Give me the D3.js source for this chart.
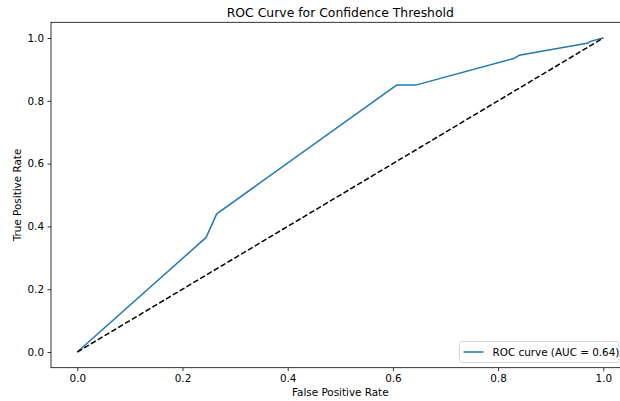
<!DOCTYPE html>
<html>
<head>
<meta charset="utf-8">
<script src="https://cdn.jsdelivr.net/npm/d3@7"></script>
<style>
  html, body { margin: 0; padding: 0; background: #fff; }
  svg { display: block; overflow: hidden; }
  text { font-family: "DejaVu Sans", sans-serif; fill: #000; }
</style>
</head>
<body>
<svg id="chart" width="620" height="401"></svg>
<script>
// ROC points
const fpr = [0, 0.245, 0.265, 0.607, 0.643, 0.83, 0.84, 0.969, 0.977, 1];
const tpr = [0, 0.365, 0.44, 0.85, 0.85, 0.935, 0.945, 0.983, 0.99, 1];
const chance = [0, 1];
const ticks = [0, 0.2, 0.4, 0.6, 0.8, 1.0];
const title = 'ROC Curve for Confidence Threshold';
const legendLabel = 'ROC curve (AUC = 0.64)';

const margin = { top: 22.3, left: 51, right: 629.6, bottom: 367.7 };
const fs = 10.4;
const svg = d3.select('#chart');

const x = d3.scaleLinear().domain([-0.05, 1.05]).range([margin.left, margin.right]);
const y = d3.scaleLinear().domain([-0.05, 1.05]).range([margin.bottom, margin.top]);

const fmt = d3.format('.1f');

// axes
svg.append('g')
  .attr('transform', `translate(0, ${margin.bottom})`)
  .call(d3.axisBottom(x).tickValues(ticks).tickFormat(fmt).tickSize(3.5).tickPadding(3.5).tickSizeOuter(0))
  .call(g => g.select('.domain').remove())
  .call(g => g.selectAll('text').attr('font-size', fs).attr('font-family', 'DejaVu Sans'))
  .call(g => g.selectAll('line').attr('stroke-width', 0.8));

svg.append('g')
  .attr('transform', `translate(${margin.left}, 0)`)
  .call(d3.axisLeft(y).tickValues(ticks).tickFormat(fmt).tickSize(3.5).tickPadding(3.5).tickSizeOuter(0))
  .call(g => g.select('.domain').remove())
  .call(g => g.selectAll('text').attr('font-size', fs).attr('font-family', 'DejaVu Sans'))
  .call(g => g.selectAll('line').attr('stroke-width', 0.8));

// lines
const line = d3.line().x(d => x(d[0])).y(d => y(d[1]));

svg.append('path')
  .datum(fpr.map((f, i) => [f, tpr[i]]))
  .attr('d', line)
  .attr('fill', 'none')
  .attr('stroke', '#1f77b4')
  .attr('stroke-width', 1.5)
  .attr('stroke-linejoin', 'round');

svg.append('path')
  .datum(chance.map(v => [v, v]))
  .attr('d', line)
  .attr('fill', 'none')
  .attr('stroke', '#000')
  .attr('stroke-width', 1.5)
  .attr('stroke-dasharray', '5.55,2.4');

// frame
svg.append('rect')
  .attr('x', margin.left)
  .attr('y', margin.top)
  .attr('width', margin.right - margin.left)
  .attr('height', margin.bottom - margin.top)
  .attr('fill', 'none')
  .attr('stroke', '#000')
  .attr('stroke-width', 0.8);

// titles
const midX = (margin.left + margin.right) / 2;
svg.append('text')
  .attr('x', midX).attr('y', 17)
  .attr('text-anchor', 'middle')
  .attr('font-size', 12.4)
  .text(title);

svg.append('text')
  .attr('x', midX).attr('y', 396)
  .attr('text-anchor', 'middle')
  .attr('font-size', fs)
  .text('False Positive Rate');

svg.append('text')
  .attr('transform', `translate(21, ${(margin.top + margin.bottom) / 2}) rotate(-90)`)
  .attr('text-anchor', 'middle')
  .attr('font-size', fs)
  .text('True Positive Rate');

// legend
const lg = svg.append('g').attr('transform', 'translate(459.5, 341.5)');
lg.append('rect')
  .attr('width', 159.5).attr('height', 21).attr('rx', 2)
  .attr('fill', '#fff').attr('fill-opacity', 0.8)
  .attr('stroke', '#ccc').attr('stroke-width', 0.8);
lg.append('line')
  .attr('x1', 4).attr('x2', 24).attr('y1', 10.5).attr('y2', 10.5)
  .attr('stroke', '#1f77b4').attr('stroke-width', 1.5);
lg.append('text')
  .attr('x', 33).attr('y', 14.3)
  .attr('font-size', fs)
  .text(legendLabel);
</script>
</body>
</html>
